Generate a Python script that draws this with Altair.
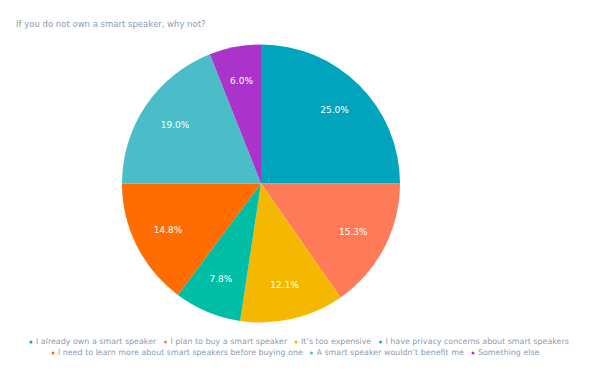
import altair as alt
import pandas as pd

title_text = "If you do not own a smart speaker, why not?"
categories = [
    "I already own a smart speaker",
    "I plan to buy a smart speaker",
    "It\u2019s too expensive",
    "I have privacy concerns about smart speakers",
    "I need to learn more about smart speakers before buying one",
    "A smart speaker wouldn\u2019t benefit me",
    "Something else",
]
values = [25.0, 15.3, 12.1, 7.8, 14.8, 19.0, 6.0]
colors = ["#00a4bd", "#ff7a59", "#f5b800", "#00bda5", "#ff6d00", "#4bbdc8", "#aa33cc"]

df = pd.DataFrame({
    "category": categories,
    "value": values,
    "order": list(range(len(categories))),
    "label": [f"{v:.1f}%" for v in values],
})

FONT = "DejaVu Sans"
TXT = "#8b9bb0"
CX, CY = 248, 170.5

leg_common = dict(
    title=None, orient="none", direction="horizontal",
    symbolType="circle", symbolSize=9, symbolStrokeWidth=0, symbolOpacity=1,
    labelFont=FONT, labelFontSize=7.95, labelColor=TXT,
    labelOffset=1, columnPadding=4.5, labelLimit=400,
)

base = alt.Chart(df).encode(
    theta=alt.Theta("value:Q", stack=True),
    order=alt.Order("order:Q"),
)

arcs = base.mark_arc(outerRadius=139, stroke=None).encode(
    x=alt.value(CX), y=alt.value(CY),
    color=alt.Color(
        "category:N",
        scale=alt.Scale(domain=categories, range=colors),
        sort=categories,
        legend=alt.Legend(values=categories[:4], legendX=14, legendY=325, **leg_common),
    ),
)

# second legend row (invisible marks carrying a separate fill scale)
row2 = alt.Chart(df).transform_filter(
    alt.FieldOneOfPredicate(field="category", oneOf=categories[4:])
).mark_point(opacity=0, filled=True).encode(
    x=alt.value(CX), y=alt.value(CY),
    fill=alt.Fill(
        "category:N",
        scale=alt.Scale(domain=categories[4:], range=colors[4:]),
        sort=categories[4:],
        legend=alt.Legend(legendX=36, legendY=336, **leg_common),
    ),
)

labels = base.mark_text(radius=104, font=FONT, fontSize=9, color="white").encode(
    x=alt.value(CX), y=alt.value(CY),
    text="label:N",
)

chart = alt.layer(arcs, labels, row2).resolve_scale(color="independent").properties(
    width=570, height=340,
    title=alt.Title(title_text, anchor="start", font=FONT, fontSize=8.5,
                    fontWeight="normal", color=TXT, dx=3, dy=19.5, offset=4),
).configure_view(stroke=None)

chart.save("out.html", embed_options={"renderer": "svg", "actions": False})
